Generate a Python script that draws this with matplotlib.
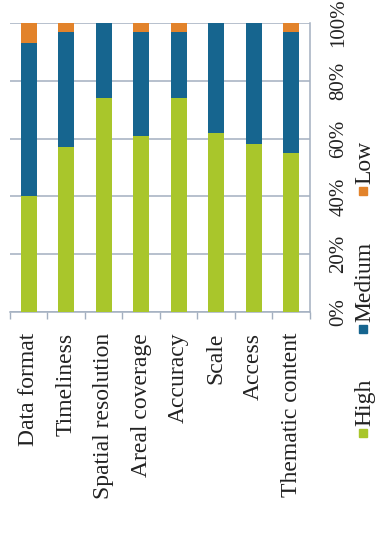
import numpy as np
import matplotlib
matplotlib.use("Agg")
import matplotlib.pyplot as plt
from matplotlib.patches import Rectangle

# data (percent of responses)
categories = ["Data format", "Timeliness", "Spatial resolution", "Areal coverage",
              "Accuracy", "Scale", "Access", "Thematic content"]
high = [40, 57, 74, 61, 74, 62, 58, 55]
medium = [53, 40, 26, 36, 23, 38, 42, 42]
low = [7, 3, 0, 3, 3, 0, 0, 3]
series_names = ["High", "Medium", "Low"]
series_colors = ["#a9c62b", "#16658f", "#e2832b"]
yticks = [0, 20, 40, 60, 80, 100]

plt.rcParams['font.family'] = ['Liberation Serif', 'DejaVu Serif']

W, H = 378, 558
fig = plt.figure(figsize=(W / 100, H / 100), dpi=100)
ax = fig.add_axes([10 / W, (H - 312) / H, 300 / W, 289 / H])

x = np.arange(len(categories))
series = [high, medium, low]
bottom = np.zeros(len(categories))
for vals, col in zip(series, series_colors):
    ax.bar(x, vals, width=0.43, bottom=bottom, color=col, zorder=3)
    bottom += np.array(vals)

ax.set_xlim(-0.5, len(categories) - 0.5)
ax.set_ylim(0, 100)

grid_col = "#a3afc0"
ax.set_yticks(yticks)
ax.set_yticklabels([f"{v}%" for v in yticks], rotation=90, va="center", fontsize=15, color="#222222")
ax.yaxis.tick_right()
ax.tick_params(axis="y", length=0, pad=14)
ax.grid(axis="y", color=grid_col, linewidth=1.1, zorder=0)

ax.set_xticks(x)
ax.set_xticklabels(categories, rotation=90, ha="center", va="top", fontsize=17, color="#222222")
ax.set_xticks(np.arange(len(categories) + 1) - 0.5, minor=True)
ax.tick_params(axis="x", which="major", length=0, pad=15)
ax.tick_params(axis="x", which="minor", length=5, color=grid_col, width=1)

for s in ["top", "left"]:
    ax.spines[s].set_visible(False)
for s in ["bottom", "right"]:
    ax.spines[s].set_color(grid_col)
    ax.spines[s].set_linewidth(1.1)

# legend drawn by hand, reading bottom to top
renderer = fig.canvas.get_renderer()
y_px = 437.0
lx = 363.0
sq = 8.0
for name, col in zip(series_names, series_colors):
    fig.patches.append(Rectangle(((lx - sq / 2) / W, (H - y_px) / H), sq / W, sq / H,
                                 transform=fig.transFigure, color=col))
    y_px -= sq + 3
    t = fig.text((lx + 2) / W, (H - y_px) / H, name, rotation=90, ha="center", va="bottom",
                 fontsize=17, color="#222222")
    bb = t.get_window_extent(renderer)
    y_px -= bb.height + 46

fig.savefig("out.png", dpi=100)
